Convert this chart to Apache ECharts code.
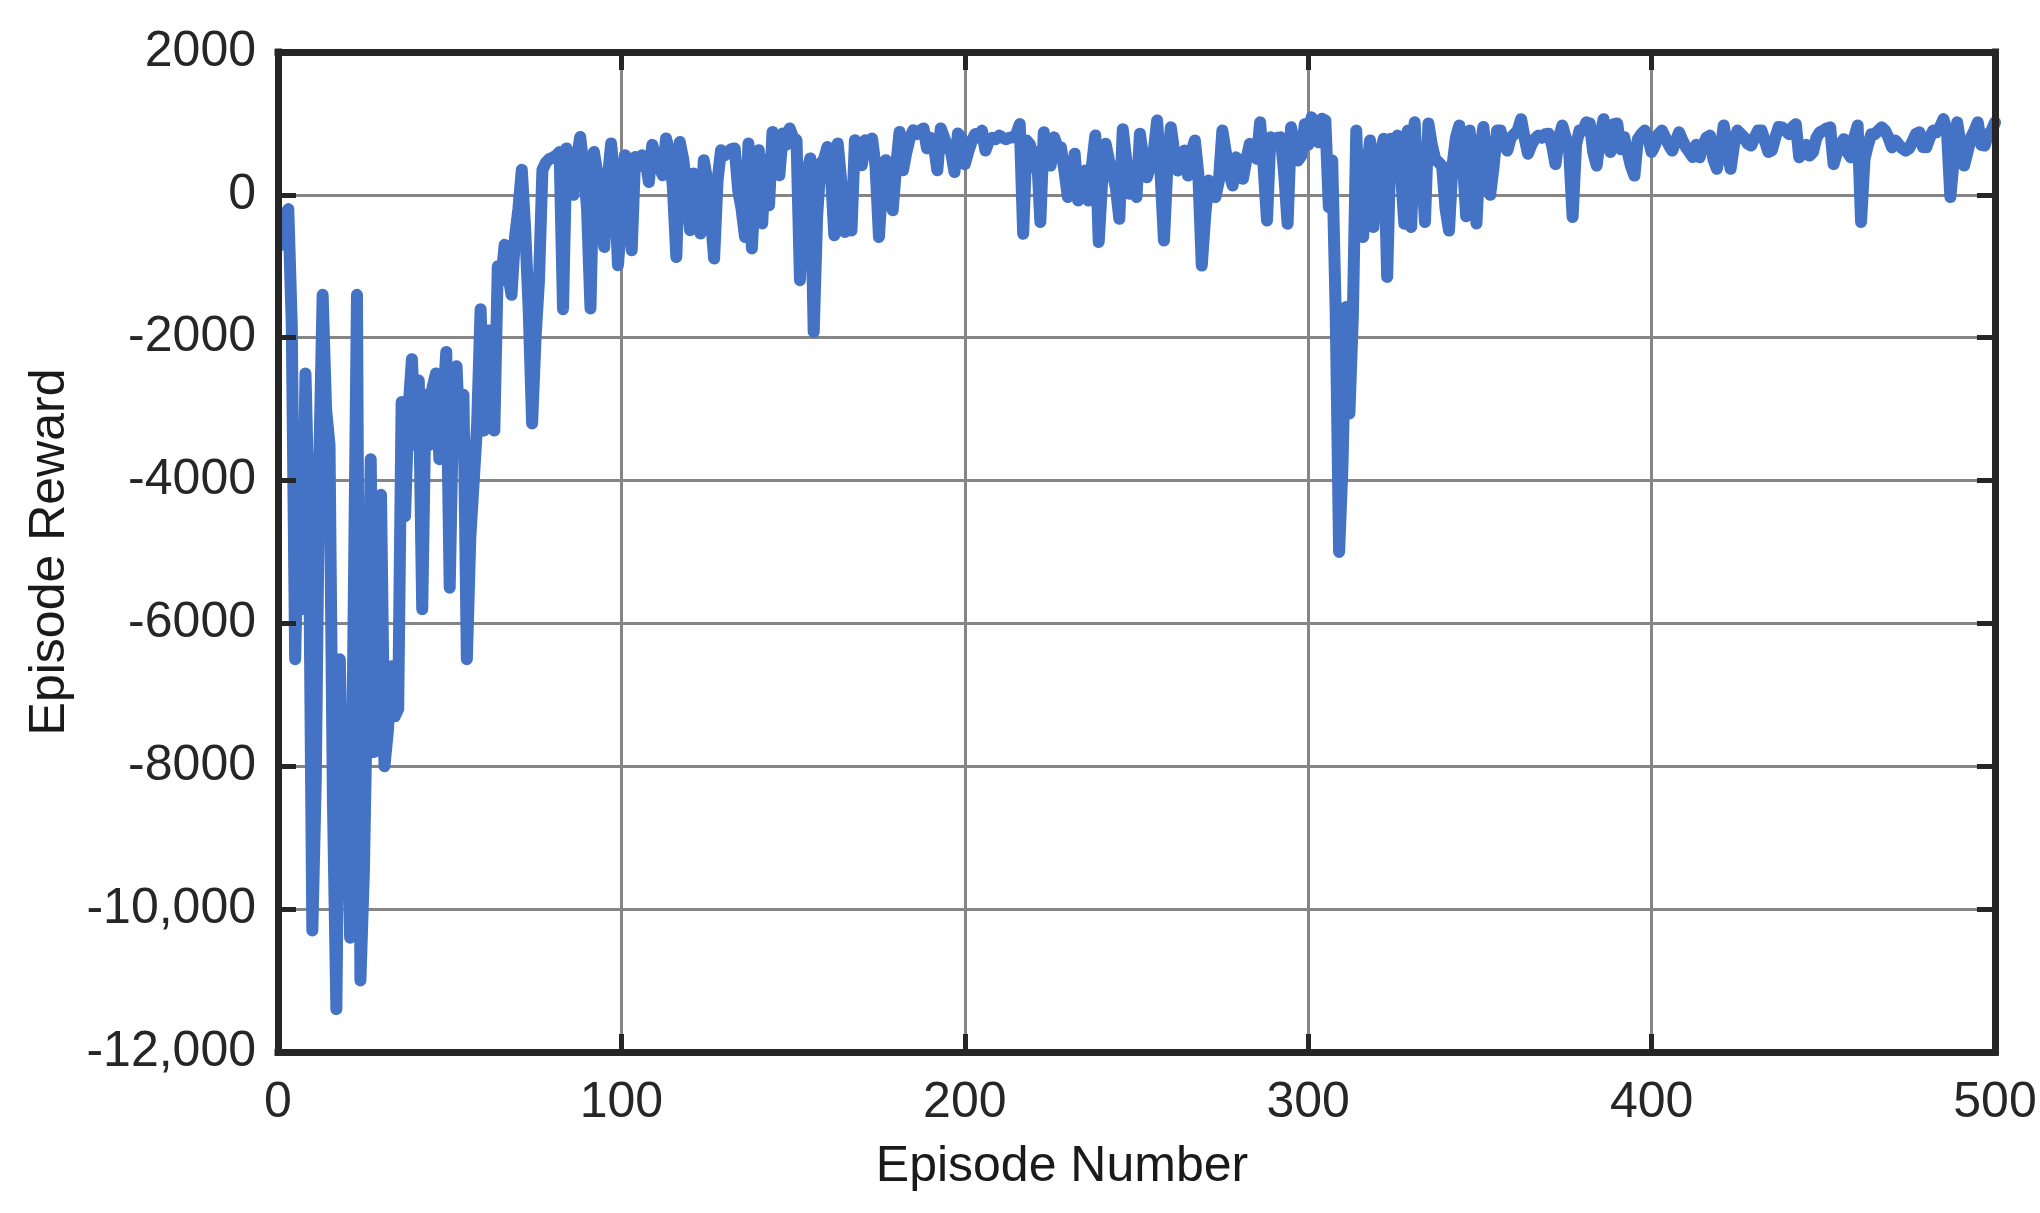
<!DOCTYPE html>
<html>
<head>
<meta charset="utf-8">
<script src="https://cdn.jsdelivr.net/npm/echarts@6/dist/echarts.min.js"></script>
<style>
  html, body { margin: 0; padding: 0; background: #fff; }
  #chart { width: 2040px; height: 1213px; }
</style>
</head>
<body>
<div id="chart"></div>
<script>
// episode reward, one value per episode (1..500)
const rewards = [
  -700, -300, -200, -1800, -6500, -4200, -5800, -2500, -4500, -10300,
  -8200, -3800, -1400, -3000, -3500, -8500, -11400, -6500, -9200, -7500,
  -10400, -6000, -1400, -11000, -9500, -6800, -3700, -7800, -6500, -4200,
  -8000, -7500, -6600, -7300, -7200, -2900, -4500, -3000, -2300, -3500,
  -2600, -5800, -2800, -3500, -2700, -2500, -3700, -3000, -2200, -5500,
  -3000, -2400, -3600, -2800, -6500, -4800, -4000, -3200, -1600, -3300,
  -1900, -1900, -3300, -1000, -1200, -700, -1100, -1400, -600, -200,
  350, -500, -1600, -3200, -2000, -1200, 350, 450, 500, 520,
  550, 600, -1600, 650, 300, 0, 500, 810, 400, -200,
  -1590, 600, 300, -200, -730, 200, 720, 200, -985, -300,
  555, 0, -775, 530, 400, 555, 500, 180, 700, 500,
  400, 275, 790, 600, 100, -870, 740, 500, 100, -495,
  300, 0, -540, 485, 200, -300, -890, 200, 625, 550,
  600, 640, 650, 65, -200, -590, 720, -750, 200, 625,
  -400, 500, -145, 880, 600, 275, 860, 700, 930, 800,
  765, -1195, -120, 300, 510, -1920, -300, 440, 500, 670,
  300, -565, 720, 200, -520, 100, -500, 765, 500, 415,
  765, 700, 790, 400, -590, 200, 485, 300, -215, 400,
  880, 345, 600, 800, 905, 850, 900, 930, 650, 800,
  700, 345, 930, 800, 670, 600, 320, 860, 800, 430,
  600, 750, 850, 800, 900, 620, 750, 800, 780, 830,
  800, 780, 800, 805, 850, 990, -545, 760, 700, 385,
  600, -380, 875, 600, 410, 805, 670, 665, 340, -30,
  200, 575, -80, 200, 340, -80, 400, 830, -660, 200,
  715, 480, 300, 100, -335, 920, 500, 15, 100, -30,
  855, 500, 245, 400, 600, 1040, 300, -640, 400, 945,
  600, 340, 500, 620, 270, 600, 760, 300, -990, -300,
  200, 100, -30, 200, 900, 600, 300, 130, 525, 400,
  225, 500, 715, 600, 505, 1015, 400, -360, 805, 700,
  800, 805, 300, -405, 945, 700, 480, 550, 990, 700,
  1085, 1000, 735, 1065, 1040, -170, 480, -1620, -5000, -3770,
  -1570, -3060, -1710, 900, -545, -590, 300, 760, -450, 300,
  600, 785, -1150, 785, 500, 830, 300, -405, 900, -450,
  1015, 60, 500, -380, 1000, 700, 500, 455, 400, -200,
  -500, 400, 800, 970, 500, -300, 900, 400, -400, 600,
  950, 500, 0, 400, 900, 900, 700, 620, 800, 850,
  900, 1060, 800, 575, 700, 785, 830, 800, 850, 855,
  700, 430, 800, 970, 800, 600, -310, 700, 900, 900,
  1015, 1000, 600, 410, 800, 1060, 800, 600, 990, 1000,
  640, 810, 600, 400, 270, 780, 850, 900, 800, 600,
  700, 850, 900, 800, 700, 620, 750, 875, 760, 665,
  600, 530, 700, 525, 700, 800, 830, 500, 365, 600,
  970, 700, 365, 700, 900, 850, 800, 715, 690, 800,
  900, 900, 750, 600, 620, 800, 950, 945, 900, 850,
  950, 990, 525, 600, 700, 550, 600, 800, 875, 900,
  930, 945, 430, 600, 700, 780, 600, 525, 800, 970,
  -380, 500, 700, 850, 850, 900, 945, 900, 800, 665,
  760, 700, 650, 620, 650, 750, 855, 875, 670, 665,
  800, 900, 880, 950, 1060, 900, -30, 500, 1015, 700,
  410, 600, 800, 900, 1015, 700, 690, 850, 900, 1015
];

const xTicks = [0, 100, 200, 300, 400, 500];
const yTicks = [2000, 0, -2000, -4000, -6000, -8000, -10000, -12000];
const yTickLabels = ['2000', '0', '-2000', '-4000', '-6000', '-8000', '-10,000', '-12,000'];

const ink = '#262626';
const font = 'Liberation Sans, Arial, sans-serif';

const chart = echarts.init(document.getElementById('chart'), null, { renderer: 'canvas' });

const xBase = { type: 'value', min: xTicks[0], max: xTicks[xTicks.length - 1], interval: 100 };
const yBase = { type: 'value', min: yTicks[yTicks.length - 1], max: yTicks[0], interval: 2000 };
const tickStyle = { show: true, inside: true, length: 18, lineStyle: { color: ink, width: 5 } };
const frameLine = { show: true, onZero: false, lineStyle: { color: ink, width: 7, cap: 'square' } };

chart.setOption({
  backgroundColor: '#fff',
  animation: false,
  grid: { left: 278, right: 45, top: 52, bottom: 161, containLabel: false },
  xAxis: [
    {
      ...xBase,
      position: 'bottom',
      z: 0,
      name: 'Episode Number',
      nameLocation: 'middle',
      nameGap: 90,
      nameTextStyle: { fontFamily: font, fontSize: 50, color: '#1a1a1a', padding: [0, 149, 0, 0] },
      axisLine: { show: false },
      axisTick: { show: false },
      axisLabel: { fontFamily: font, fontSize: 50, color: ink, margin: 26 },
      splitLine: { show: true, showMinLine: false, showMaxLine: false, lineStyle: { color: '#858585', width: 3 } },
    },
    { ...xBase, position: 'bottom', z: 5, axisLine: frameLine, axisTick: tickStyle, axisLabel: { show: false }, splitLine: { show: false } },
    { ...xBase, position: 'top', z: 5, axisLine: frameLine, axisTick: tickStyle, axisLabel: { show: false }, splitLine: { show: false } },
  ],
  yAxis: [
    {
      ...yBase,
      position: 'left',
      z: 0,
      name: 'Episode Reward',
      nameLocation: 'middle',
      nameGap: 200,
      nameRotate: 90,
      nameTextStyle: { fontFamily: font, fontSize: 50, color: '#1a1a1a' },
      axisLine: { show: false },
      axisTick: { show: false },
      axisLabel: {
        fontFamily: font, fontSize: 50, color: ink, margin: 22,
        formatter: (v) => yTickLabels[yTicks.indexOf(v)] ?? String(v),
      },
      splitLine: { show: true, showMinLine: false, showMaxLine: false, lineStyle: { color: '#858585', width: 3 } },
    },
    { ...yBase, position: 'left', z: 5, axisLine: frameLine, axisTick: tickStyle, axisLabel: { show: false }, splitLine: { show: false } },
    { ...yBase, position: 'right', z: 5, axisLine: frameLine, axisTick: tickStyle, axisLabel: { show: false }, splitLine: { show: false } },
  ],
  series: [
    {
      type: 'line',
      xAxisIndex: 0,
      yAxisIndex: 0,
      data: rewards.map((v, i) => [i + 1, v]),
      showSymbol: false,
      symbol: 'none',
      z: 2,
      lineStyle: { color: '#4472C4', width: 12, cap: 'round', join: 'round' },
    },
  ],
});
</script>
</body>
</html>
